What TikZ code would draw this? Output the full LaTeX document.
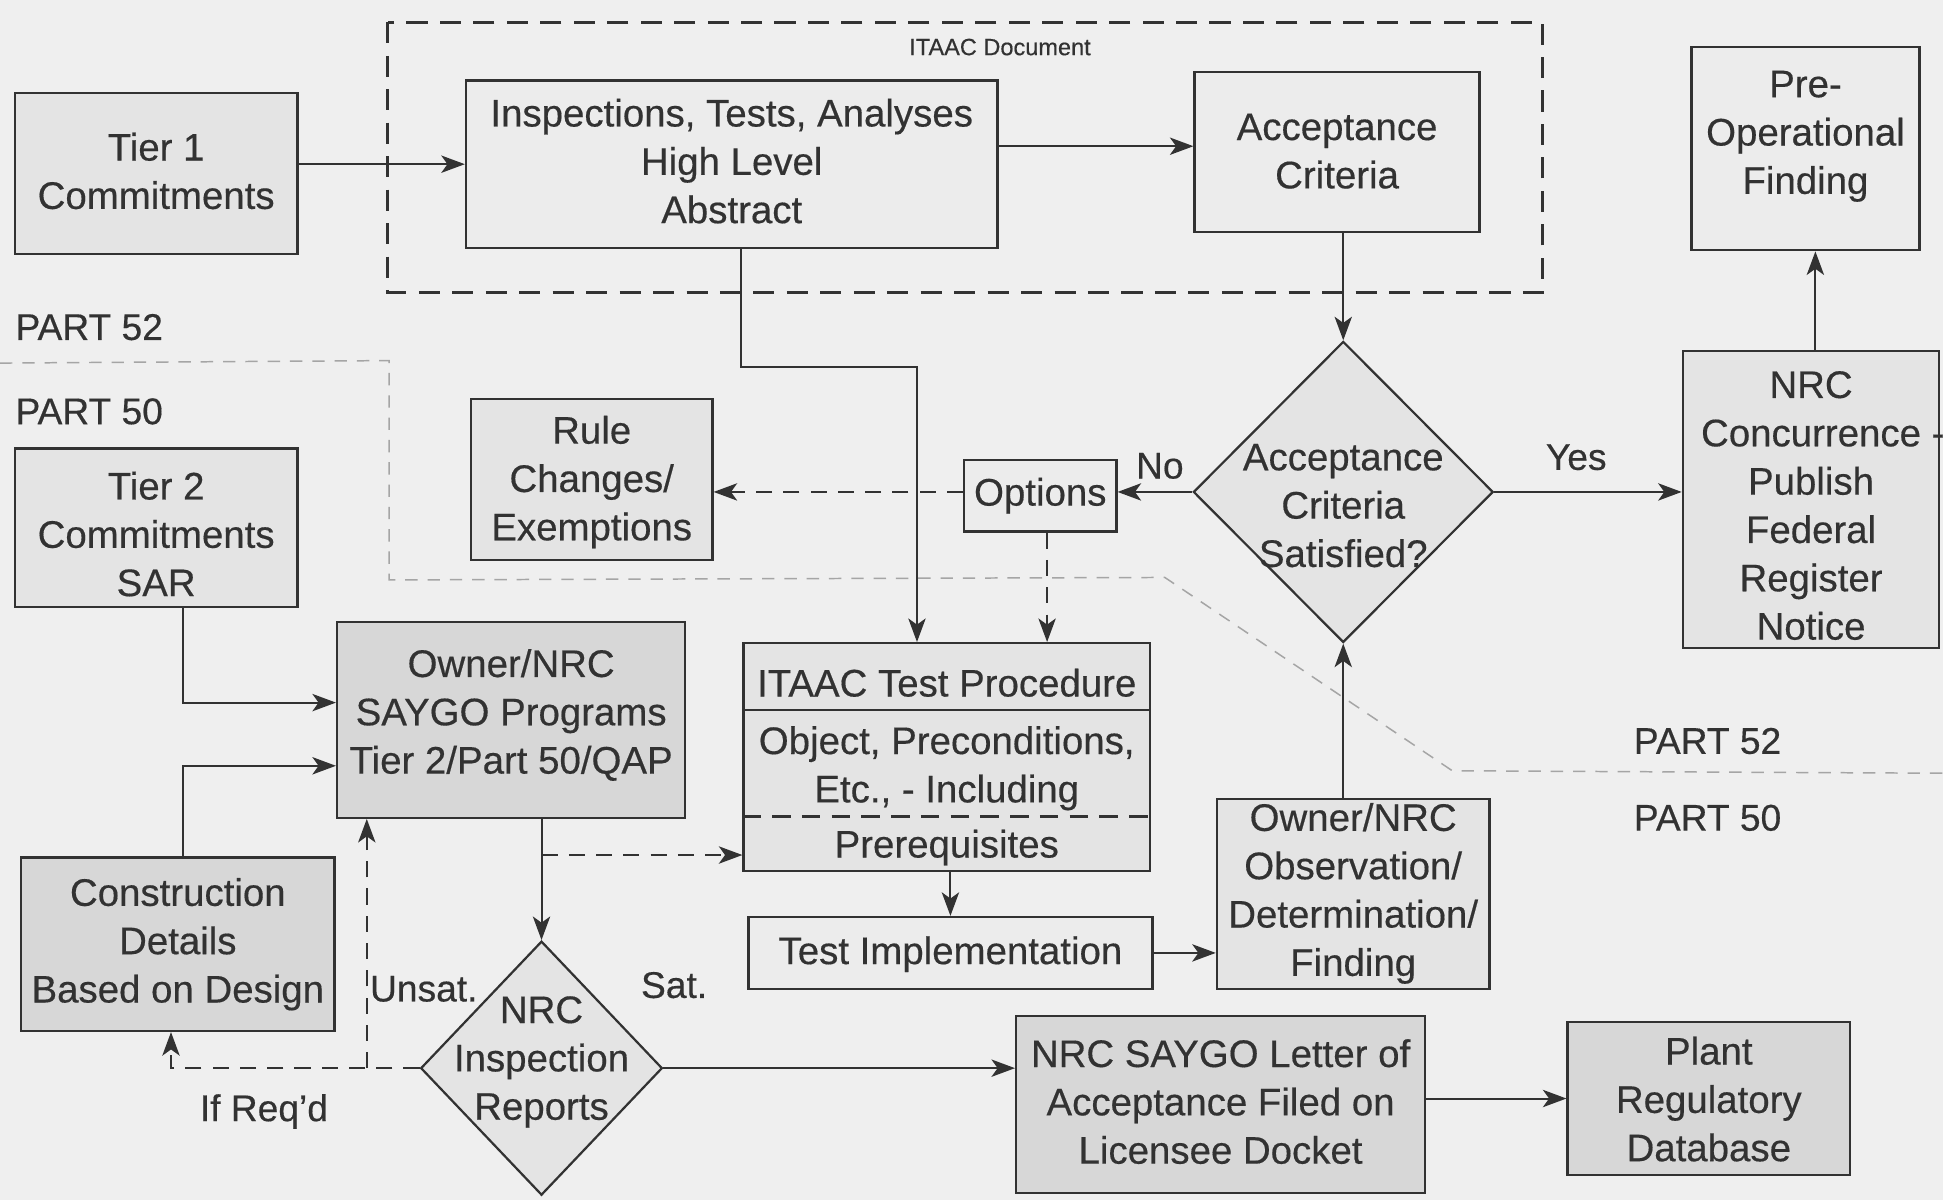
\documentclass[tikz,border=0pt]{standalone}
\usepackage{fontspec}
\setmainfont{Liberation Sans}[FakeBold=0.4]
\usetikzlibrary{shapes.geometric,arrows.meta}
\definecolor{ink}{RGB}{50,50,50}
\definecolor{bg}{RGB}{239,239,239}
\definecolor{litefill}{RGB}{236,236,236}
\definecolor{boxfill}{RGB}{228,228,228}
\definecolor{darkfill}{RGB}{215,215,215}
\definecolor{faint}{RGB}{165,165,165}
\tikzset{
  box/.style={draw=ink, line width=1.8pt, fill=boxfill, inner sep=0pt},
  txt/.style={text=ink, inner sep=0pt, align=center, font=\fontsize{31}{39}\selectfont},
  lbl/.style={text=ink, inner sep=0pt, font=\fontsize{30}{38}\selectfont},
  diam/.style={diamond, draw=ink, line width=1.8pt, fill=boxfill, inner sep=0pt},
  arr/.style={draw=ink, line width=1.6pt, -{Stealth[length=19pt,width=14pt,inset=5pt]}},
  darr/.style={arr, dash pattern=on 13pt off 9pt},
}
% \flowbox[opts]{name}{x1}{y1}{x2}{y2}{text y}{text}
\newcommand{\flowbox}[8][]{%
  \node[box,#1,minimum width={(#5-#3)*1pt},minimum height={(#6-#4)*1pt}] (#2) at ({(#3+#5)/2},{(#4+#6)/2}) {};
  \node[txt] (#2t) at ({(#3+#5)/2},#7) {#8};
}
\begin{document}
\begin{tikzpicture}[x=1pt,y=-1pt]
\fill[bg] (0,0) rectangle (1568,968);
\useasboundingbox (0,0) rectangle (1568,968);

% Part 52 / Part 50 boundary (faint)
\draw[faint, line width=1.2pt, dash pattern=on 10pt off 8pt]
  (0,293) -- (314,291) -- (314,468) -- (940,466) -- (1172,622) -- (1568,624);

% ITAAC document frame
\draw[ink, line width=2.2pt, dash pattern=on 17pt off 10pt] (313,18) rectangle (1245,236);
\node[text=ink, inner sep=0pt, font=\fontsize{19}{22}\selectfont] (doclbl) at (807,38) {ITAAC Document};

% Boxes
\flowbox{tone}{12}{75}{240}{205}{138}{Tier 1\\Commitments}
\flowbox[fill=litefill]{insp}{376}{65}{805}{200}{130}{Inspections, Tests, Analyses\\High Level\\Abstract}
\flowbox[fill=litefill]{acc}{964}{58}{1194}{187}{122}{Acceptance\\Criteria}
\flowbox[fill=litefill]{preop}{1365}{38}{1549}{202}{110}{Pre-\\Operational\\Finding}
\flowbox{conc}{1358}{283}{1565}{523}{408}{NRC\\Concurrence\rlap{ -}\\Publish\\Federal\\Register\\Notice}
\flowbox{rule}{380}{322}{575}{452}{389}{Rule\\Changes/\\Exemptions}
\flowbox[fill=litefill]{opt}{778}{371}{901}{429}{400}{Options}
\flowbox{ttwo}{12}{362}{240}{490}{431}{Tier 2\\Commitments\\SAR}
\flowbox[fill=darkfill]{saygo}{272}{502}{553}{660}{577}{Owner/NRC\\SAYGO Programs\\Tier 2/Part 50/QAP}
\flowbox[fill=darkfill]{con}{17}{692}{270}{832}{762}{Construction\\Details\\Based on Design}
\flowbox[fill=litefill]{ti}{604}{740}{930}{798}{770}{Test Implementation}
\flowbox{obs}{982}{645}{1202}{798}{721}{Owner/NRC\\Observation/\\Determination/\\Finding}
\flowbox[fill=darkfill]{letter}{820}{820}{1150}{963}{889}{NRC SAYGO Letter of\\Acceptance Filed on\\Licensee Docket}
\flowbox[fill=darkfill]{plant}{1265}{825}{1493}{948}{887}{Plant\\Regulatory\\Database}

% ITAAC test procedure (compartments)
\node[box, minimum width=328pt, minimum height=184pt] (itp) at (764,611) {};
\draw[ink, line width=1.8pt] (itp.west |- 0,573) -- (itp.east |- 0,573);
\draw[ink, line width=1.8pt, dash pattern=on 15pt off 9pt] (itp.west |- 0,659) -- (itp.east |- 0,659);
\node[txt] (itph) at (764,551) {ITAAC Test Procedure};
\node[txt] (itpb) at (764,620) {Object, Preconditions,\\Etc., - Including};
\node[txt] (itpp) at (764,684) {Prerequisites};

% Diamonds
\node[diam, minimum width=242pt, minimum height=243pt] (dia) at (1084,397) {};
\node[txt] (diat) at (1084,408) {Acceptance\\Criteria\\Satisfied?};
\node[diam, minimum width=195pt, minimum height=205pt] (dia2) at (437,862) {};
\node[txt] (dia2t) at (437,857) {NRC\\Inspection\\Reports};

% Labels
\node[lbl] (no) at (936,376) {No};
\node[lbl] (yes) at (1272,369) {Yes};
\node[lbl] (unsat) at (342,798) {Unsat.};
\node[lbl] (sat) at (544,795) {Sat.};
\node[lbl] (ifreq) at (213,897) {If Req'd};
\node[lbl] (p52a) at (72,264) {PART 52};
\node[lbl] (p50a) at (72,332) {PART 50};
\node[lbl] (p52b) at (1378,598) {PART 52};
\node[lbl] (p50b) at (1378,660) {PART 50};

% Connectors
\draw[arr] (tone.east |- insp.west) -- (insp.west);
\draw[arr] (insp.east |- 0,118) -- (acc.west |- 0,118);
\draw[arr] (acc.south -| dia.north) -- (dia.north);
\draw[arr] (dia.east) -- (dia.east -| conc.west);
\draw[arr] (1465,0 |- conc.north) -- (1465,0 |- preop.south);
\draw[arr] (dia.west) -- (dia.west -| opt.east);
\draw[darr] (opt.west |- dia.west) -- (rule.east |- dia.west);
\draw[darr] (845,0 |- opt.south) -- (845,0 |- itp.north);
\coordinate (bend1) at (740,296);
\draw[arr] (598,0 |- insp.south) |- (bend1) -- (740,0 |- itp.north);
\draw[arr] (148,0 |- ttwo.south) |- (saygo.west |- 0,567);
\draw[arr] (148,0 |- con.north) |- (saygo.west |- 0,618);
\draw[arr] (dia2.north |- saygo.south) -- (dia2.north);
\coordinate (br) at (437,690);
\draw[darr] (br) -- (itp.west |- br);
\draw[darr] (dia2.west) -| (138,0 |- con.south);
\coordinate (br2) at (296,0 |- dia2.west);
\draw[darr] (br2) -- (296,0 |- saygo.south);
\draw[arr] (dia2.east) -- (dia2.east -| letter.west);
\draw[arr] (letter.east |- plant.west) -- (plant.west);
\draw[arr] (ti.north |- itp.south) -- (ti.north);
\draw[arr] (ti.east) -- (ti.east -| obs.west);
\draw[arr] (dia.south |- obs.north) -- (dia.south);
\end{tikzpicture}
\end{document}
